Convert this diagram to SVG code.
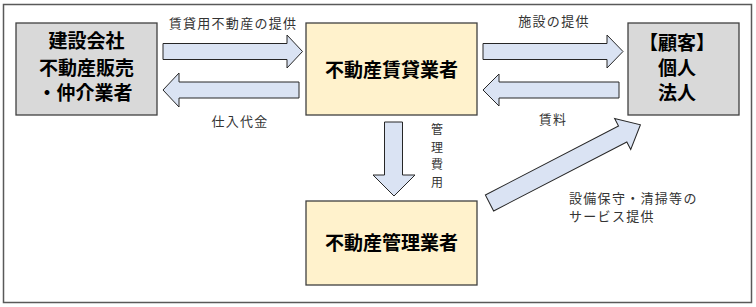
<svg xmlns="http://www.w3.org/2000/svg" width="756" height="307" viewBox="0 0 756 307">
<style>
.frame{fill:#ffffff;stroke:#595959;stroke-width:1.5}
.gray{fill:#d9d9d9;stroke:#404040;stroke-width:1.3}
.yel{fill:#fff2cc;stroke:#404040;stroke-width:1.3}
.arr{fill:#dae3f3;stroke:#262626;stroke-width:1;stroke-linejoin:miter}
.big{font-family:"Noto Sans CJK JP","Noto Sans CJK SC",sans-serif;font-size:19px;font-weight:bold;fill:#000;text-anchor:middle}
.lbl{font-family:"Noto Sans CJK JP","Noto Sans CJK SC",sans-serif;font-size:13px;fill:#333;letter-spacing:1.3px}
.vt{font-family:"Noto Sans CJK JP","Noto Sans CJK SC",sans-serif;font-size:12px;fill:#333;text-anchor:middle}
.mid{text-anchor:middle}
</style>
<rect class="frame" x="3.5" y="4.5" width="748" height="298"/>
<g id="connectors">
<path id="c1" class="arr" d="M163,43.5 H287 V35 L302.5,51.5 L287,68 V59.5 H163 Z"/>
<path id="c2" class="arr" d="M299,82 H179 V73 L163,90 L179,107 V98 H299 Z"/>
<path id="c3" class="arr" d="M483,43.5 H607 V35 L623,51.5 L607,68 V59.5 H483 Z"/>
<path id="c4" class="arr" d="M619,82 H499 V74 L483,90 L499,106 V98 H619 Z"/>
<path id="c5" class="arr" d="M384.5,122 V175 H373 L394,196 L415,175 H402.5 V122 Z"/>
<path id="c6" class="arr" transform="translate(489.5,203) rotate(-27.4)" d="M0,-9 H150 V-17.5 L170,0 L150,17.5 V9 H0 Z"/>
<text class="lbl mid" x="233" y="27.5">賃貸用不動産の提供</text>
<text class="lbl mid" x="240" y="126">仕入代金</text>
<text class="lbl mid" x="554" y="25.5">施設の提供</text>
<text class="lbl mid" x="553" y="124">賃料</text>
<text class="vt" x="437" y="134">管</text>
<text class="vt" x="437" y="151.7">理</text>
<text class="vt" x="437" y="169.4">費</text>
<text class="vt" x="437" y="187.1">用</text>
<text class="lbl" x="569" y="203">設備保守・清掃等の</text>
<text class="lbl" x="569" y="221">サービス提供</text>
</g>
<g id="n1">
<rect class="gray" x="16" y="23" width="141" height="92"/>
<text class="big" x="86.5" y="48">建設会社</text>
<text class="big" x="86.5" y="74.5">不動産販売</text>
<text class="big" x="85" y="99.5">・仲介業者</text>
</g>
<g id="n2">
<rect class="yel" x="306" y="23" width="171" height="92"/>
<text class="big" x="391.5" y="77">不動産賃貸業者</text>
</g>
<g id="n3">
<rect class="gray" x="628" y="23" width="111" height="92"/>
<text class="big" x="677" y="50">【顧客】</text>
<text class="big" x="677" y="75">個人</text>
<text class="big" x="677" y="100">法人</text>
</g>
<g id="n4">
<rect class="yel" x="306" y="201" width="171" height="84"/>
<text class="big" x="391.5" y="250">不動産管理業者</text>
</g>
</svg>
